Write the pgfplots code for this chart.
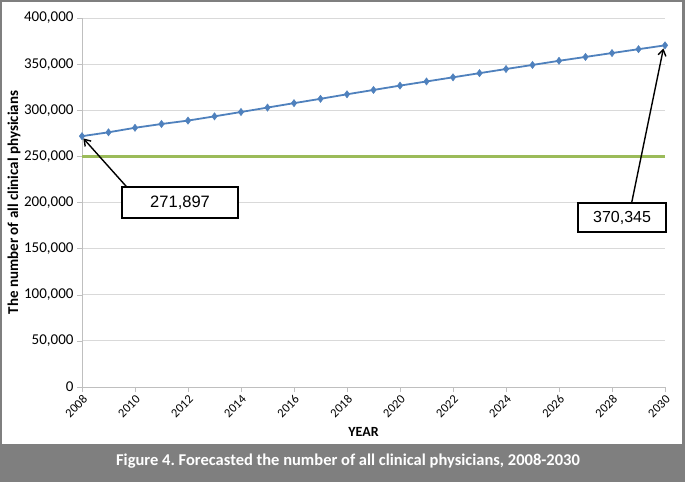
\documentclass[border=0pt]{standalone}
\usepackage{fontspec}
\setmainfont{Carlito}
\newfontfamily\arialf{Liberation Sans}
\usepackage{pgfplots}
\pgfplotsset{compat=1.18}
\usetikzlibrary{arrows.meta}
\definecolor{exblue}{HTML}{4F81BD}
\definecolor{exgreen}{HTML}{9BBB59}
\definecolor{bandgray}{HTML}{7F7F7F}
\definecolor{gridgray}{HTML}{D9D9D9}
\definecolor{axgray}{HTML}{BFBFBF}
\begin{document}
\begin{tikzpicture}[x=1pt,y=1pt]
\fill[bandgray] (0,0) rectangle (685,482);
\fill[white] (2,38) rectangle (682,480);
\begin{axis}[
  at={(82pt,95pt)}, anchor=south west,
  scale only axis, width=583pt, height=369pt,
  xmin=2008, xmax=2030, ymin=0, ymax=400000,
  xtick={2008,2010,2012,2014,2016,2018,2020,2022,2024,2026,2028,2030},
  xticklabels={2008,2010,2012,2014,2016,2018,2020,2022,2024,2026,2028,2030},
  ytick={0,50000,100000,150000,200000,250000,300000,350000,400000},
  yticklabels={0,{50,000},{100,000},{150,000},{200,000},{250,000},{300,000},{350,000},{400,000}},
  scaled y ticks=false,
  axis x line*=bottom, axis y line*=left,
  axis line style={draw=axgray,-},
  every tick/.style={draw=axgray},
  tick align=outside,
  major tick length=5pt,
  ymajorgrids, grid style={draw=gridgray, line width=0.8pt},
  yticklabel style={font=\fontsize{15}{15}\selectfont},
  xticklabel style={font=\fontsize{12.5}{12.5}\selectfont, rotate=45, anchor=north east, inner sep=1.5pt},
  xlabel={YEAR},
  xlabel style={font=\bfseries\fontsize{14}{14}\selectfont, at={(axis description cs:0.5,0)}, anchor=center, yshift=-45pt, xshift=-10pt},
  ylabel={The number of all clinical physicians},
  ylabel style={font=\bfseries\fontsize{15}{15}\selectfont, at={(axis description cs:-0.1166,0.5)}, anchor=center},
  clip=false,
]
\addplot[exgreen, line width=3.5pt, no markers] coordinates {(2008,250000) (2030,250000)};
\addplot[exblue, line width=1.8pt, mark=diamond*, mark size=3.6pt, mark options={fill=exblue, draw=exblue, line width=0.5pt}] coordinates {
(2008,271897) (2009,276100) (2010,281000) (2011,285100) (2012,288800)
(2013,293400) (2014,298100) (2015,302900) (2016,307700) (2017,312400)
(2018,317300) (2019,322000) (2020,326700) (2021,331200) (2022,335700)
(2023,340200) (2024,344700) (2025,349100) (2026,353600) (2027,357800)
(2028,362000) (2029,366200) (2030,370345)};
\draw[black, line width=1.4pt, -{Straight Barb[length=6pt,width=8pt]}] (axis cs:2009.69,216800) -- (axis cs:2008.05,269500);
\draw[black, line width=1.4pt, -{Straight Barb[length=6pt,width=8pt]}] (axis cs:2028.74,199458) -- (axis cs:2029.94,367000);
\node[draw=black, line width=1.4pt, fill=white, minimum width=116pt, minimum height=31pt, inner sep=0pt, font=\arialf\fontsize{16.5}{16.5}\selectfont] at (axis cs:2011.70,200000) {271,897};
\node[draw=black, line width=1.4pt, fill=white, minimum width=88pt, minimum height=29pt, inner sep=0pt, font=\arialf\fontsize{16}{16}\selectfont] at (axis cs:2028.38,183740) {370,345};
\end{axis}
\node[text=white, font=\bfseries\fontsize{16.5}{16.5}\selectfont] at (348,21) {Figure 4.\ Forecasted the number of all clinical physicians, 2008-2030};
\pgfresetboundingbox
\path[use as bounding box] (0,0) rectangle (685,482);
\end{tikzpicture}
\end{document}
